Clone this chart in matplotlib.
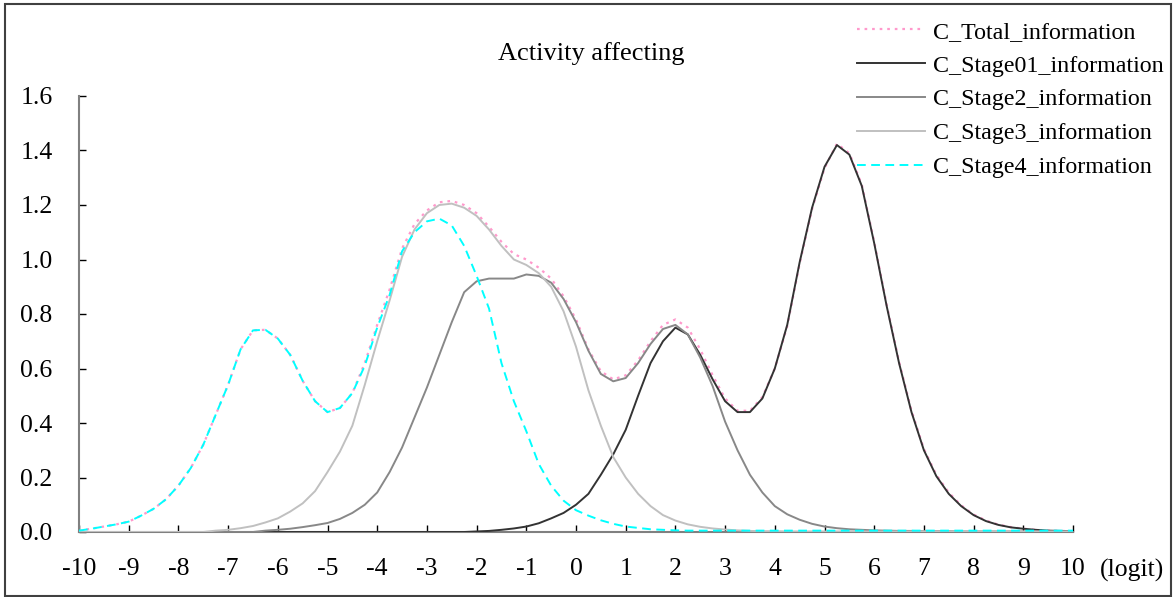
import numpy as np
import matplotlib.pyplot as plt
from matplotlib.patches import Rectangle

plt.rcParams['font.family'] = ['Liberation Serif', 'DejaVu Serif']
plt.rcParams['axes.unicode_minus'] = False

# logit grid, step 0.25
x = np.arange(-10, 10.001, 0.25)

total = [0.005, 0.012, 0.02, 0.028, 0.038, 0.06, 0.085, 0.12, 0.17, 0.235,
         0.32, 0.43, 0.54, 0.67, 0.74, 0.742, 0.71, 0.65, 0.555, 0.48,
         0.44, 0.455, 0.51, 0.62, 0.76, 0.89, 1.04, 1.13, 1.18, 1.21,
         1.215, 1.2, 1.17, 1.12, 1.065, 1.02, 1.0, 0.97, 0.93, 0.865,
         0.78, 0.67, 0.59, 0.56, 0.575, 0.63, 0.70, 0.76, 0.78, 0.75,
         0.67, 0.575, 0.49, 0.445, 0.445, 0.495, 0.60, 0.755, 0.985, 1.185,
         1.335, 1.425, 1.39, 1.275, 1.065, 0.835, 0.625, 0.445, 0.305, 0.21,
         0.145, 0.098, 0.064, 0.042, 0.027, 0.018, 0.012, 0.008, 0.005, 0.004,
         0.003]

stage01 = [0.0] * 32 + [0.002, 0.004, 0.008, 0.013, 0.02, 0.032, 0.05, 0.07,
           0.1, 0.14, 0.21, 0.285, 0.375, 0.5, 0.62, 0.70, 0.75, 0.725,
           0.65, 0.56, 0.48, 0.44, 0.44, 0.49, 0.60, 0.76, 0.99, 1.19,
           1.34, 1.42, 1.385, 1.27, 1.06, 0.83, 0.62, 0.44, 0.30, 0.205,
           0.14, 0.095, 0.062, 0.04, 0.026, 0.017, 0.012, 0.008, 0.005, 0.004,
           0.003]

stage2 = [0.0] * 15 + [0.005, 0.008, 0.012, 0.018, 0.025, 0.033, 0.048, 0.07,
          0.1, 0.145, 0.22, 0.31, 0.42, 0.53, 0.65, 0.77, 0.88, 0.92,
          0.93, 0.93, 0.93, 0.945, 0.94, 0.915, 0.855, 0.77, 0.665, 0.58,
          0.553, 0.565, 0.62, 0.69, 0.745, 0.76, 0.725, 0.64, 0.535, 0.405,
          0.3, 0.21, 0.145, 0.095, 0.065, 0.045, 0.03, 0.02, 0.014, 0.01,
          0.008, 0.006, 0.005, 0.004, 0.004, 0.003, 0.003, 0.003, 0.002, 0.002,
          0.002, 0.002, 0.002, 0.002, 0.002, 0.002, 0.002, 0.002]

stage3 = [0.0] * 11 + [0.005, 0.008, 0.014, 0.022, 0.035, 0.05, 0.075, 0.105,
          0.15, 0.22, 0.295, 0.39, 0.54, 0.70, 0.85, 1.01, 1.11, 1.17,
          1.20, 1.205, 1.19, 1.16, 1.11, 1.05, 1.0, 0.98, 0.95, 0.90,
          0.81, 0.68, 0.52, 0.39, 0.275, 0.2, 0.14, 0.095, 0.062, 0.042,
          0.028, 0.019, 0.013, 0.009, 0.006, 0.004, 0.003, 0.003, 0.002, 0.002,
          0.002, 0.002, 0.002, 0.002, 0.002, 0.002, 0.002, 0.002, 0.002, 0.002,
          0.002, 0.002, 0.002, 0.002, 0.002, 0.002, 0.002, 0.002, 0.002, 0.002,
          0.002, 0.002]

stage4 = [0.005, 0.012, 0.02, 0.028, 0.038, 0.06, 0.085, 0.12, 0.17, 0.235,
          0.32, 0.43, 0.54, 0.67, 0.74, 0.742, 0.71, 0.65, 0.555, 0.48,
          0.44, 0.455, 0.51, 0.61, 0.75, 0.87, 1.03, 1.10, 1.14, 1.15,
          1.125, 1.05, 0.94, 0.82, 0.62, 0.48, 0.37, 0.25, 0.17, 0.115,
          0.08, 0.06, 0.043, 0.03, 0.02, 0.015, 0.01, 0.008, 0.006, 0.005,
          0.005, 0.005, 0.005, 0.005, 0.005, 0.005, 0.005, 0.005, 0.005, 0.005,
          0.005, 0.005, 0.005, 0.005, 0.005, 0.005, 0.005, 0.005, 0.005, 0.005,
          0.005, 0.005, 0.005, 0.005, 0.005, 0.005, 0.005, 0.005, 0.005, 0.005,
          0.005]

labels = ['C_Total_information', 'C_Stage01_information', 'C_Stage2_information',
          'C_Stage3_information', 'C_Stage4_information']

W, H = 1174, 597
fig = plt.figure(figsize=(W / 100, H / 100), dpi=100)
ax = fig.add_axes([79 / W, 1 - 532 / H, (1073 - 79) / W, (532 - 96) / H])

ax.plot(x, total, color='#ff99cc', lw=1.6, ls=(0, (1.2, 2.2)), label=labels[0], zorder=2)
ax.plot(x, stage01, color='#333333', lw=1.4, label=labels[1], zorder=3)
ax.plot(x, stage2, color='#888888', lw=1.4, label=labels[2], zorder=3)
ax.plot(x, stage3, color='#c0c0c0', lw=1.4, label=labels[3], zorder=3)
ax.plot(x, stage4, color='#00ffff', lw=1.4, ls=(0, (4.5, 2.8)), label=labels[4], zorder=3)

ax.set_xlim(-10, 10)
ax.set_ylim(0, 1.6)
ax.set_xticks(range(-10, 11))
ax.set_yticks(np.arange(0, 1.61, 0.2))
ax.set_yticklabels([f'{v:.1f}' for v in np.arange(0, 1.61, 0.2)])
for s in ['top', 'right']:
    ax.spines[s].set_visible(False)
for s in ['left', 'bottom']:
    ax.spines[s].set_color('#808080')
    ax.spines[s].set_linewidth(1.5)
ax.tick_params(axis='both', direction='in', length=5, width=1, color='black', labelsize=18.5)
ax.tick_params(axis='y', pad=19)
ax.tick_params(axis='x', pad=19)

fig.text(591 / W, 1 - 54 / H, 'Activity affecting', fontsize=19, ha='center', va='center')
fig.text(1132 / W, 1 - 570 / H, '(logit)', fontsize=18.5, ha='center', va='center')

ax.legend(loc='upper left', bbox_to_anchor=(857 / W, 1 - 21 / H),
          bbox_transform=fig.transFigure, frameon=False, fontsize=17.3,
          handlelength=2.85, handletextpad=0.3, labelspacing=0.5,
          borderpad=0, borderaxespad=0)

fig.patches.append(Rectangle((5 / W, 1 / H), (W - 8) / W, (H - 5) / H,
                             transform=fig.transFigure, fill=False,
                             edgecolor='#404040', lw=1.5))

fig.savefig('out.png', dpi=100)
